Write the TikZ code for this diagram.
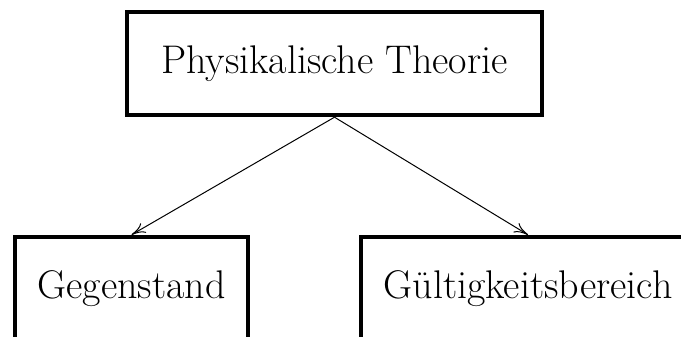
\documentclass[tikz,border=0pt]{standalone}
\usetikzlibrary{arrows.meta,positioning}

\begin{document}
\begin{tikzpicture}[x=0.5pt,y=-0.5pt,
    every node/.style={font=\fontsize{20}{24}\selectfont},
    box/.style={rectangle,draw,line width=2.2pt,minimum height=51.5pt,text centered},
    arrow/.style={-{To[length=7pt,width=5.5pt]},line width=0.5pt}
]
\clip (0,0) rectangle (681,337);

% Top level
\node[box,minimum width=207.5pt] (theorie) at (334.5,63.5) {Physikalische Theorie};

% Second level
\node[box,minimum width=116.5pt] (gegenstand) at (131.5,288.5) {Gegenstand};
\node[box,minimum width=167pt] (bereich) at (528,288.5) {Gültigkeitsbereich};

% Connections
\draw[arrow] (theorie.south) -- (gegenstand.north);
\draw[arrow] (theorie.south) -- (bereich.north);

\end{tikzpicture}
\end{document}
